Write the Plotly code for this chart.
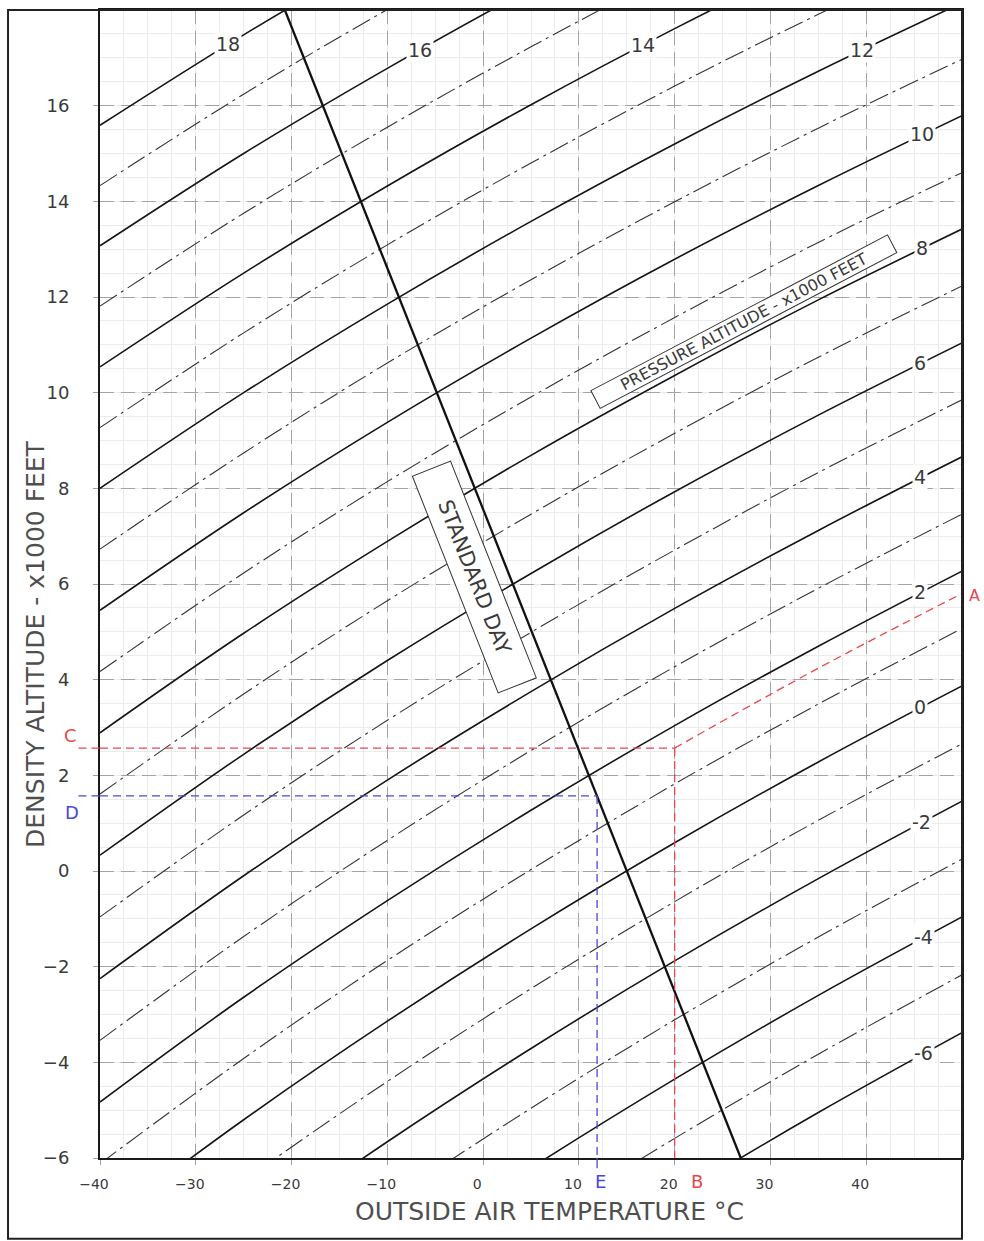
import plotly.graph_objects as go

# ---------------- data ----------------
# outside air temperature (deg C) at which each pressure-altitude curve is sampled
oat_points = [-40, -25, -10, 5, 20, 35, 50]

# pressure altitudes (x1000 ft) of the curves, solid for even, dash-dot for odd
pressure_alts = [-6, -5, -4, -3, -2, -1, 0, 1, 2, 3, 4, 5, 6, 7, 8, 9, 10,
                 11, 12, 13, 14, 15, 16, 17, 18]

# density altitude (x1000 ft) of each curve at each sampled temperature
da_at_m40 = [-15.25, -13.94, -12.63, -11.33, -10.02, -8.72, -7.42, -6.12, -4.83,
             -3.54, -2.25, -0.96, 0.33, 1.61, 2.89, 4.17, 5.45, 6.73, 8.00, 9.27,
             10.54, 11.81, 13.07, 14.33, 15.59]
da_at_m25 = [-12.91, -11.62, -10.33, -9.05, -7.76, -6.48, -5.20, -3.92, -2.64,
             -1.37, -0.10, 1.17, 2.44, 3.70, 4.97, 6.23, 7.49, 8.74, 10.00, 11.25,
             12.50, 13.75, 15.00, 16.24, 17.48]
da_at_m10 = [-10.74, -9.47, -8.20, -6.93, -5.66, -4.40, -3.14, -1.87, -0.62,
             0.64, 1.90, 3.15, 4.40, 5.65, 6.89, 8.14, 9.38, 10.62, 11.85, 13.09,
             14.32, 15.55, 16.78, 18.01, 19.23]
da_at_p5 = [-8.72, -7.46, -6.21, -4.96, -3.71, -2.46, -1.21, 0.03, 1.27, 2.52,
            3.75, 4.99, 6.22, 7.46, 8.69, 9.91, 11.14, 12.36, 13.58, 14.80, 16.02,
            17.23, 18.45, 19.66, 20.87]
da_at_p20 = [-6.83, -5.59, -4.35, -3.11, -1.88, -0.64, 0.59, 1.82, 3.04, 4.27,
             5.49, 6.71, 7.93, 9.15, 10.36, 11.57, 12.79, 13.99, 15.20, 16.41,
             17.61, 18.81, 20.00, 21.20, 22.39]
da_at_p35 = [-5.05, -3.83, -2.60, -1.38, -0.16, 1.06, 2.28, 3.49, 4.70, 5.91,
             7.12, 8.33, 9.53, 10.74, 11.94, 13.14, 14.33, 15.53, 16.72, 17.91,
             19.10, 20.28, 21.47, 22.65, 23.83]
da_at_p50 = [-3.38, -2.17, -0.96, 0.25, 1.46, 2.66, 3.87, 5.07, 6.27, 7.46, 8.66,
             9.85, 11.04, 12.23, 13.42, 14.60, 15.79, 16.97, 18.15, 19.33, 20.50,
             21.67, 22.84, 24.01, 25.18]

# in-line curve labels
label_pa = [18, 16, 14, 12, 10, 8, 6, 4, 2, 0, -2, -4, -6]
label_oat = [-26.6, -6.6, 16.7, 39.6, 45.8, 45.8, 45.6, 45.6, 45.6, 45.6, 45.8,
             46.0, 46.0]
label_da = [17.28, 17.17, 17.27, 17.17, 15.40, 13.02, 10.62, 8.23, 5.83, 3.42,
            1.03, -1.38, -3.81]

# standard day line
std_oat = [26.9, -20.7]
std_da = [-6, 18]

# worked example (red: A-B-C, blue: D-E)
red_path_oat = [20, 35, 50]
red_path_da = [2.57, 4.24, 5.80]
red_c_da = 2.57
red_b_oat = 20
blue_d_da = 1.57
blue_e_oat = 11.9

x_ticks = [-40, -30, -20, -10, 0, 10, 20, 30, 40]
y_ticks = [-6, -4, -2, 0, 2, 4, 6, 8, 10, 12, 14, 16]

X_MIN, X_MAX = -40, 50
Y_MIN, Y_MAX = -6, 18

# ---------------- figure ----------------
FONT = "DejaVu Sans"
TXT = "#3a3a3a"
RED = "#e8474c"
BLUE = "#4a48d8"

columns = [da_at_m40, da_at_m25, da_at_m10, da_at_p5, da_at_p20, da_at_p35, da_at_p50]

fig = go.Figure()

for i, pa in enumerate(pressure_alts):
    ys = [col[i] for col in columns]
    if pa % 2 == 0:
        line = dict(color="#151515", width=1.6, shape="spline")
    else:
        line = dict(color="#333333", width=1.1, dash="20px,5px,3px,5px", shape="spline")
    fig.add_trace(go.Scatter(x=oat_points, y=ys, mode="lines", line=line,
                             hoverinfo="skip", name=f"PA {pa}"))

# standard day line
fig.add_trace(go.Scatter(x=std_oat, y=std_da, mode="lines",
                         line=dict(color="#111111", width=2.3), hoverinfo="skip"))

# red example path
fig.add_trace(go.Scatter(x=[X_MIN, red_b_oat], y=[red_c_da, red_c_da], mode="lines",
                         line=dict(color=RED, width=1.3, dash="8px,5px"), hoverinfo="skip"))
fig.add_trace(go.Scatter(x=[red_b_oat, red_b_oat], y=[red_c_da, Y_MIN], mode="lines",
                         line=dict(color=RED, width=1.3, dash="8px,5px"), hoverinfo="skip"))
fig.add_trace(go.Scatter(x=red_path_oat, y=red_path_da, mode="lines",
                         line=dict(color=RED, width=1.3, dash="8px,5px", shape="spline"),
                         hoverinfo="skip"))
# blue example path
fig.add_trace(go.Scatter(x=[X_MIN, blue_e_oat], y=[blue_d_da, blue_d_da], mode="lines",
                         line=dict(color=BLUE, width=1.3, dash="8px,5px"), hoverinfo="skip"))
fig.add_trace(go.Scatter(x=[blue_e_oat, blue_e_oat], y=[blue_d_da, Y_MIN], mode="lines",
                         line=dict(color=BLUE, width=1.3, dash="8px,5px"), hoverinfo="skip"))

# stubs of the example lines reaching into the margins
fig.add_shape(type="line", xref="paper", yref="y", x0=-0.025, x1=0, y0=red_c_da, y1=red_c_da,
              line=dict(color=RED, width=1.3, dash="8px,5px"))
fig.add_shape(type="line", xref="paper", yref="y", x0=-0.025, x1=0, y0=blue_d_da, y1=blue_d_da,
              line=dict(color=BLUE, width=1.3, dash="8px,5px"))
fig.add_shape(type="line", xref="x", yref="paper", x0=blue_e_oat, x1=blue_e_oat, y0=0, y1=-0.009,
              line=dict(color=BLUE, width=1.3))

# outer frame
fig.add_shape(type="rect", xref="paper", yref="paper", x0=-0.1067, x1=1.0, y0=-0.0704, y1=1.0,
              line=dict(color="#222222", width=2))

CM = dict(xanchor="center", yanchor="middle", showarrow=False)

# curve labels
for pa, tx, ty in zip(label_pa, label_oat, label_da):
    fig.add_annotation(x=tx, y=ty, xref="x", yref="y", text=str(pa),
                       font=dict(family=FONT, size=19, color=TXT),
                       bgcolor="white", borderpad=1, **CM)

# standard day box
fig.add_annotation(x=-0.94, y=6.14, xref="x", yref="y", text="STANDARD DAY",
                   textangle=68.4, width=232, height=40, borderpad=0,
                   font=dict(family=FONT, size=21, color=TXT),
                   bgcolor="white", bordercolor="#333333", borderwidth=1, **CM)

# pressure altitude box
fig.add_annotation(x=27.26, y=11.48, xref="x", yref="y",
                   text="PRESSURE ALTITUDE - x1000 FEET",
                   textangle=-27.7, width=334, height=19, borderpad=0,
                   font=dict(family=FONT, size=16, color=TXT),
                   bgcolor="white", bordercolor="#333333", borderwidth=1, **CM)

# axis titles
fig.add_annotation(x=0.522, y=-0.047, xref="paper", yref="paper",
                   text="OUTSIDE AIR TEMPERATURE °C",
                   font=dict(family=FONT, size=25, color="#4f4f4f"), **CM)
fig.add_annotation(x=-0.0742, y=0.4478, xref="paper", yref="paper",
                   text="DENSITY ALTITUDE - x1000 FEET", textangle=-90,
                   font=dict(family=FONT, size=25, color="#4f4f4f"), **CM)

# example letters
fig.add_annotation(x=1.0145, y=5.75, xref="paper", yref="y", text="A",
                   font=dict(family=FONT, size=16, color=RED), **CM)
fig.add_annotation(x=-0.0348, y=2.83, xref="paper", yref="y", text="C",
                   font=dict(family=FONT, size=18, color=RED), **CM)
fig.add_annotation(x=-0.0325, y=1.22, xref="paper", yref="y", text="D",
                   font=dict(family=FONT, size=18, color=BLUE), **CM)
fig.add_annotation(x=22.3, y=-0.0209, xref="x", yref="paper", text="B",
                   font=dict(family=FONT, size=18, color=RED), **CM)
fig.add_annotation(x=12.3, y=-0.0209, xref="x", yref="paper", text="E",
                   font=dict(family=FONT, size=18, color=BLUE), **CM)

fig.update_xaxes(range=[X_MIN, X_MAX], tickmode="array", tickvals=x_ticks,
                 ticks="outside", ticklen=5, tickcolor="#a0a0a0",
                 tickfont=dict(family=FONT, size=14, color=TXT), ticklabelshift=-6,
                 ticklabelstandoff=7,
                 showgrid=True, gridcolor="#a4a4a4", gridwidth=1, griddash="14px,7px",
                 minor=dict(tickmode="linear", tick0=-40, dtick=2.5, showgrid=True,
                            gridcolor="#ebebeb", gridwidth=1, griddash="solid", ticks=""),
                 showline=True, linecolor="#1a1a1a", linewidth=2, mirror=True,
                 zeroline=False)
fig.update_yaxes(range=[Y_MIN, Y_MAX], tickmode="array", tickvals=y_ticks,
                 ticks="outside", ticklen=5, tickcolor="#a0a0a0",
                 tickfont=dict(family=FONT, size=18, color=TXT), ticklabelstandoff=20,
                 showgrid=True, gridcolor="#a4a4a4", gridwidth=1, griddash="14px,7px",
                 minor=dict(tickmode="linear", tick0=-6, dtick=0.5, showgrid=True,
                            gridcolor="#ebebeb", gridwidth=1, griddash="solid", ticks=""),
                 showline=True, linecolor="#1a1a1a", linewidth=2, mirror=True,
                 zeroline=False)

fig.update_layout(width=984, height=1241, margin=dict(l=100, r=22, t=8, b=83),
                  plot_bgcolor="white", paper_bgcolor="white", showlegend=False)

fig.write_html("out.html", config={"displayModeBar": False},
               post_script="document.body.style.margin='0';")
